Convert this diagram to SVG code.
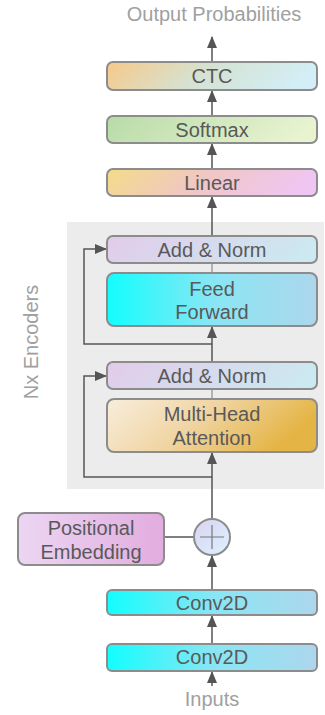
<svg xmlns="http://www.w3.org/2000/svg" width="325" height="715" viewBox="0 0 325 715">
<style>
.box{stroke:#8c8c8c;stroke-width:2}
.lbl{font-family:"Liberation Sans",Arial,sans-serif;font-size:20px;fill:#595959;text-anchor:middle}
.cap{font-family:"Liberation Sans",Arial,sans-serif;font-size:20px;fill:#a0a0a0;text-anchor:middle}
.ln{stroke:#555;stroke-width:1.5;fill:none}
.thin{stroke:#8c8c8c;stroke-width:1.2;fill:none}
</style>
<defs>
<marker id="arr" markerUnits="userSpaceOnUse" markerWidth="12" markerHeight="10" refX="11" refY="5" orient="auto">
<path d="M0,0 L12,5 L0,10 z" fill="#555"/>
</marker>
<linearGradient id="gCTC" x1="0" y1="0" x2="1" y2="0.15"><stop offset="0" stop-color="#f7c98a"/><stop offset="0.5" stop-color="#d5e2d2"/><stop offset="1" stop-color="#d3eef6"/></linearGradient>
<linearGradient id="gSoft" x1="0" y1="0" x2="1" y2="0.15"><stop offset="0" stop-color="#b8dba8"/><stop offset="1" stop-color="#e8f3d0"/></linearGradient>
<linearGradient id="gLin" x1="0" y1="0" x2="1" y2="0.15"><stop offset="0" stop-color="#f4dc88"/><stop offset="0.5" stop-color="#efc7c4"/><stop offset="1" stop-color="#efc6f2"/></linearGradient>
<linearGradient id="gAN" x1="0" y1="0" x2="1" y2="0.15"><stop offset="0" stop-color="#e2cbea"/><stop offset="1" stop-color="#cce8f0"/></linearGradient>
<linearGradient id="gCyan" x1="0" y1="0" x2="1" y2="0"><stop offset="0" stop-color="#12fefe"/><stop offset="0.5" stop-color="#88e6f4"/><stop offset="1" stop-color="#add6ec"/></linearGradient>
<linearGradient id="gMH" x1="0" y1="0" x2="1" y2="0.3"><stop offset="0" stop-color="#f8eddd"/><stop offset="0.5" stop-color="#f0d5a3"/><stop offset="1" stop-color="#e4b444"/></linearGradient>
<linearGradient id="gPE" x1="0" y1="0" x2="1" y2="0"><stop offset="0" stop-color="#ecd6f3"/><stop offset="1" stop-color="#e2acdf"/></linearGradient>
<linearGradient id="gCirc" x1="0" y1="0" x2="1" y2="1"><stop offset="0" stop-color="#d9d3f0"/><stop offset="1" stop-color="#def2ff"/></linearGradient>
</defs>

<rect id="encoder-region" x="67" y="222" width="257" height="267" fill="#ececec"/>
<text class="cap" transform="translate(38,342) rotate(-90)">Nx Encoders</text>

<text class="cap" x="214" y="21">Output Probabilities</text>
<text class="cap" x="212" y="706">Inputs</text>

<g id="connectors">
<line class="ln" x1="212" y1="62" x2="212" y2="37" marker-end="url(#arr)"/>
<line class="ln" x1="212" y1="116" x2="212" y2="91" marker-end="url(#arr)"/>
<line class="ln" x1="212" y1="169" x2="212" y2="144" marker-end="url(#arr)"/>
<line class="ln" x1="212" y1="236" x2="212" y2="197" marker-end="url(#arr)"/>
<line class="thin" x1="212" y1="263" x2="212" y2="273"/>
<line class="ln" x1="212" y1="362" x2="212" y2="327" marker-end="url(#arr)"/>
<path class="ln" d="M212,344 H84 V249 H106" marker-end="url(#arr)"/>
<line class="thin" x1="212" y1="389" x2="212" y2="399"/>
<line class="ln" x1="212" y1="519" x2="212" y2="453" marker-end="url(#arr)"/>
<path class="ln" d="M212,477 H84 V376 H106" marker-end="url(#arr)"/>
<line class="ln" x1="164" y1="537" x2="194" y2="537"/>
<line class="ln" x1="212" y1="590" x2="212" y2="556" marker-end="url(#arr)"/>
<line class="ln" x1="212" y1="644" x2="212" y2="616" marker-end="url(#arr)"/>
<line class="ln" x1="212" y1="686" x2="212" y2="672" marker-end="url(#arr)"/>
</g>

<g id="ctc"><rect class="box" x="107" y="62" width="210" height="28" rx="6" fill="url(#gCTC)"/><text class="lbl" x="212" y="83">CTC</text></g>
<g id="softmax"><rect class="box" x="107" y="116" width="210" height="27" rx="6" fill="url(#gSoft)"/><text class="lbl" x="212" y="137">Softmax</text></g>
<g id="linear"><rect class="box" x="107" y="169" width="210" height="27" rx="6" fill="url(#gLin)"/><text class="lbl" x="212" y="190">Linear</text></g>
<g id="addnorm2"><rect class="box" x="107" y="236" width="210" height="27" rx="6" fill="url(#gAN)"/><text class="lbl" x="212" y="257">Add &amp; Norm</text></g>
<g id="feedforward"><rect class="box" x="107" y="273" width="210" height="53" rx="7" fill="url(#gCyan)"/><text class="lbl" x="212" y="296">Feed</text><text class="lbl" x="212" y="319">Forward</text></g>
<g id="addnorm1"><rect class="box" x="107" y="362" width="210" height="27" rx="6" fill="url(#gAN)"/><text class="lbl" x="212" y="383">Add &amp; Norm</text></g>
<g id="multihead"><rect class="box" x="107" y="399" width="210" height="53" rx="7" fill="url(#gMH)"/><text class="lbl" x="212" y="421">Multi-Head</text><text class="lbl" x="212" y="445">Attention</text></g>
<g id="posemb"><rect class="box" x="18" y="513" width="146" height="52" rx="7" fill="url(#gPE)"/><text class="lbl" x="91" y="535">Positional</text><text class="lbl" x="91" y="559">Embedding</text></g>
<g id="add"><circle class="box" cx="212" cy="537" r="18" fill="url(#gCirc)"/><path d="M200,537 H224 M212,525 V549" stroke="#777" stroke-width="1.2"/></g>
<g id="conv2"><rect class="box" x="107" y="590" width="210" height="25" rx="5" fill="url(#gCyan)"/><text class="lbl" x="212" y="610">Conv2D</text></g>
<g id="conv1"><rect class="box" x="107" y="644" width="210" height="27" rx="5" fill="url(#gCyan)"/><text class="lbl" x="212" y="664">Conv2D</text></g>
</svg>
